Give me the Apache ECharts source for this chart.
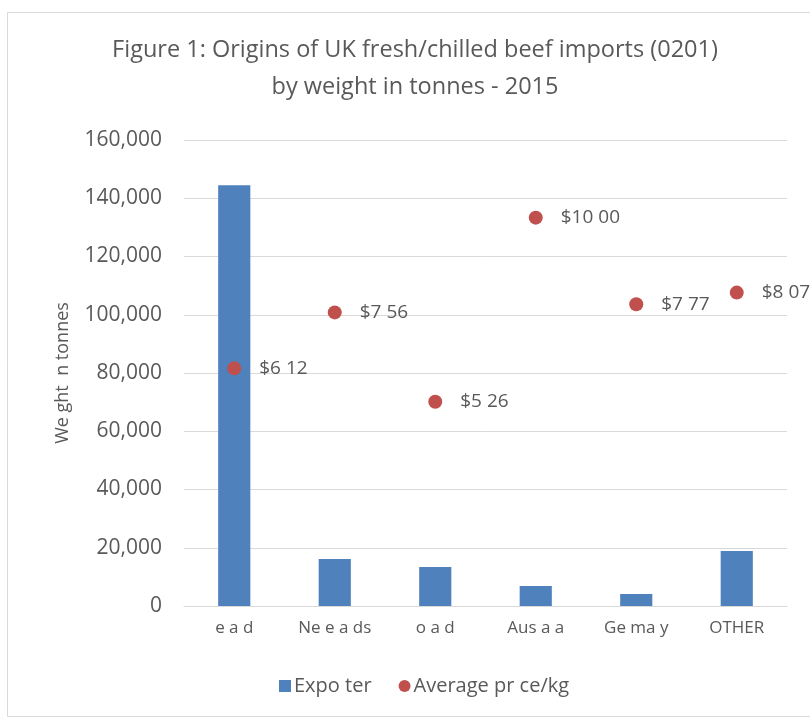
<!DOCTYPE html>
<html>
<head>
<meta charset="utf-8">
<script src="https://cdn.jsdelivr.net/npm/echarts@6/dist/echarts.min.js"></script>
<style>
  html, body { margin: 0; padding: 0; background: #fff; }
  #chart { width: 810px; height: 718px; }
</style>
</head>
<body>
<div id="chart"></div>
<script>
// countries as they appear in the source (glyphs missing there)
const categories = ['e a d', 'Ne e a ds', 'o a d', 'Aus a a', 'Ge ma y', 'OTHER']
// weight in tonnes (left axis)
const weights = [144500, 16100, 13400, 6900, 4100, 18900]
// average price per kg (hidden secondary axis)
const prices = [6.12, 7.56, 5.26, 10.00, 7.77, 8.07]
const priceLabels = ['$6 12', '$7 56', '$5 26', '$10 00', '$7 77', '$8 07']

const fontFamily = '"Open Sans", sans-serif'
const textColor = '#595959'

const chart = echarts.init(document.getElementById('chart'))

chart.setOption({
  backgroundColor: '#fff',
  animation: false,
  // title is drawn as graphic text so it can sit a bit right of centre, like the source
  graphic: [{
    type: 'rect',
    left: 5,
    top: 10,
    shape: { width: 830, height: 704 },
    style: { fill: 'none', stroke: '#d9d9d9', lineWidth: 1 }
  }, {
    type: 'text',
    x: 415,
    y: 68.5,
    style: {
      text: 'Figure 1: Origins of UK fresh/chilled beef imports (0201)\nby weight in tonnes - 2015',
      align: 'center',
      verticalAlign: 'middle',
      fontFamily: fontFamily,
      fontSize: 23.5,
      lineHeight: 37,
      fill: textColor
    }
  }],
  legend: {
    left: 274,
    top: 671,
    itemWidth: 12,
    itemHeight: 12,
    itemGap: 27,
    textStyle: { fontFamily: fontFamily, fontSize: 20, color: textColor, padding: [0, 0, 0, -2] },
    data: [
      { name: 'Expo ter', icon: 'rect' },
      { name: 'Average pr ce/kg', icon: 'circle' }
    ]
  },
  grid: {
    left: 184,
    right: 23,
    top: 140,
    bottom: 112
  },
  xAxis: {
    type: 'category',
    data: categories,
    axisLine: { show: true, lineStyle: { color: '#d9d9d9', width: 1 } },
    axisTick: { show: false },
    axisLabel: {
      fontFamily: fontFamily,
      fontSize: 17,
      color: textColor,
      margin: 14
    }
  },
  yAxis: [{
    type: 'value',
    min: 0,
    max: 160000,
    interval: 20000,
    name: 'We ght  n tonnes',
    nameLocation: 'middle',
    nameRotate: 90,
    nameGap: 112,
    nameTextStyle: { fontFamily: fontFamily, fontSize: 18, color: textColor },
    axisLine: { show: false },
    axisTick: { show: false },
    splitLine: { lineStyle: { color: '#d9d9d9', width: 1 } },
    axisLabel: {
      fontFamily: fontFamily,
      fontSize: 21,
      color: textColor,
      margin: 22,
      formatter: function(v) { return v.toLocaleString('en-US') }
    }
  }, {
    type: 'value',
    min: 0,
    max: 12,
    show: false,
    splitLine: { show: false }
  }],
  series: [{
    name: 'Expo ter',
    type: 'bar',
    data: weights,
    barWidth: '32%',
    itemStyle: { color: '#4f81bd' }
  }, {
    name: 'Average pr ce/kg',
    type: 'scatter',
    yAxisIndex: 1,
    data: prices,
    symbolSize: 14,
    clip: false,
    itemStyle: { color: '#c0504d', opacity: 1 },
    label: {
      show: true,
      position: 'right',
      distance: 18,
      fontFamily: fontFamily,
      fontSize: 19,
      color: textColor,
      formatter: function(p) { return priceLabels[p.dataIndex] }
    }
  }]
})
</script>
</body>
</html>
